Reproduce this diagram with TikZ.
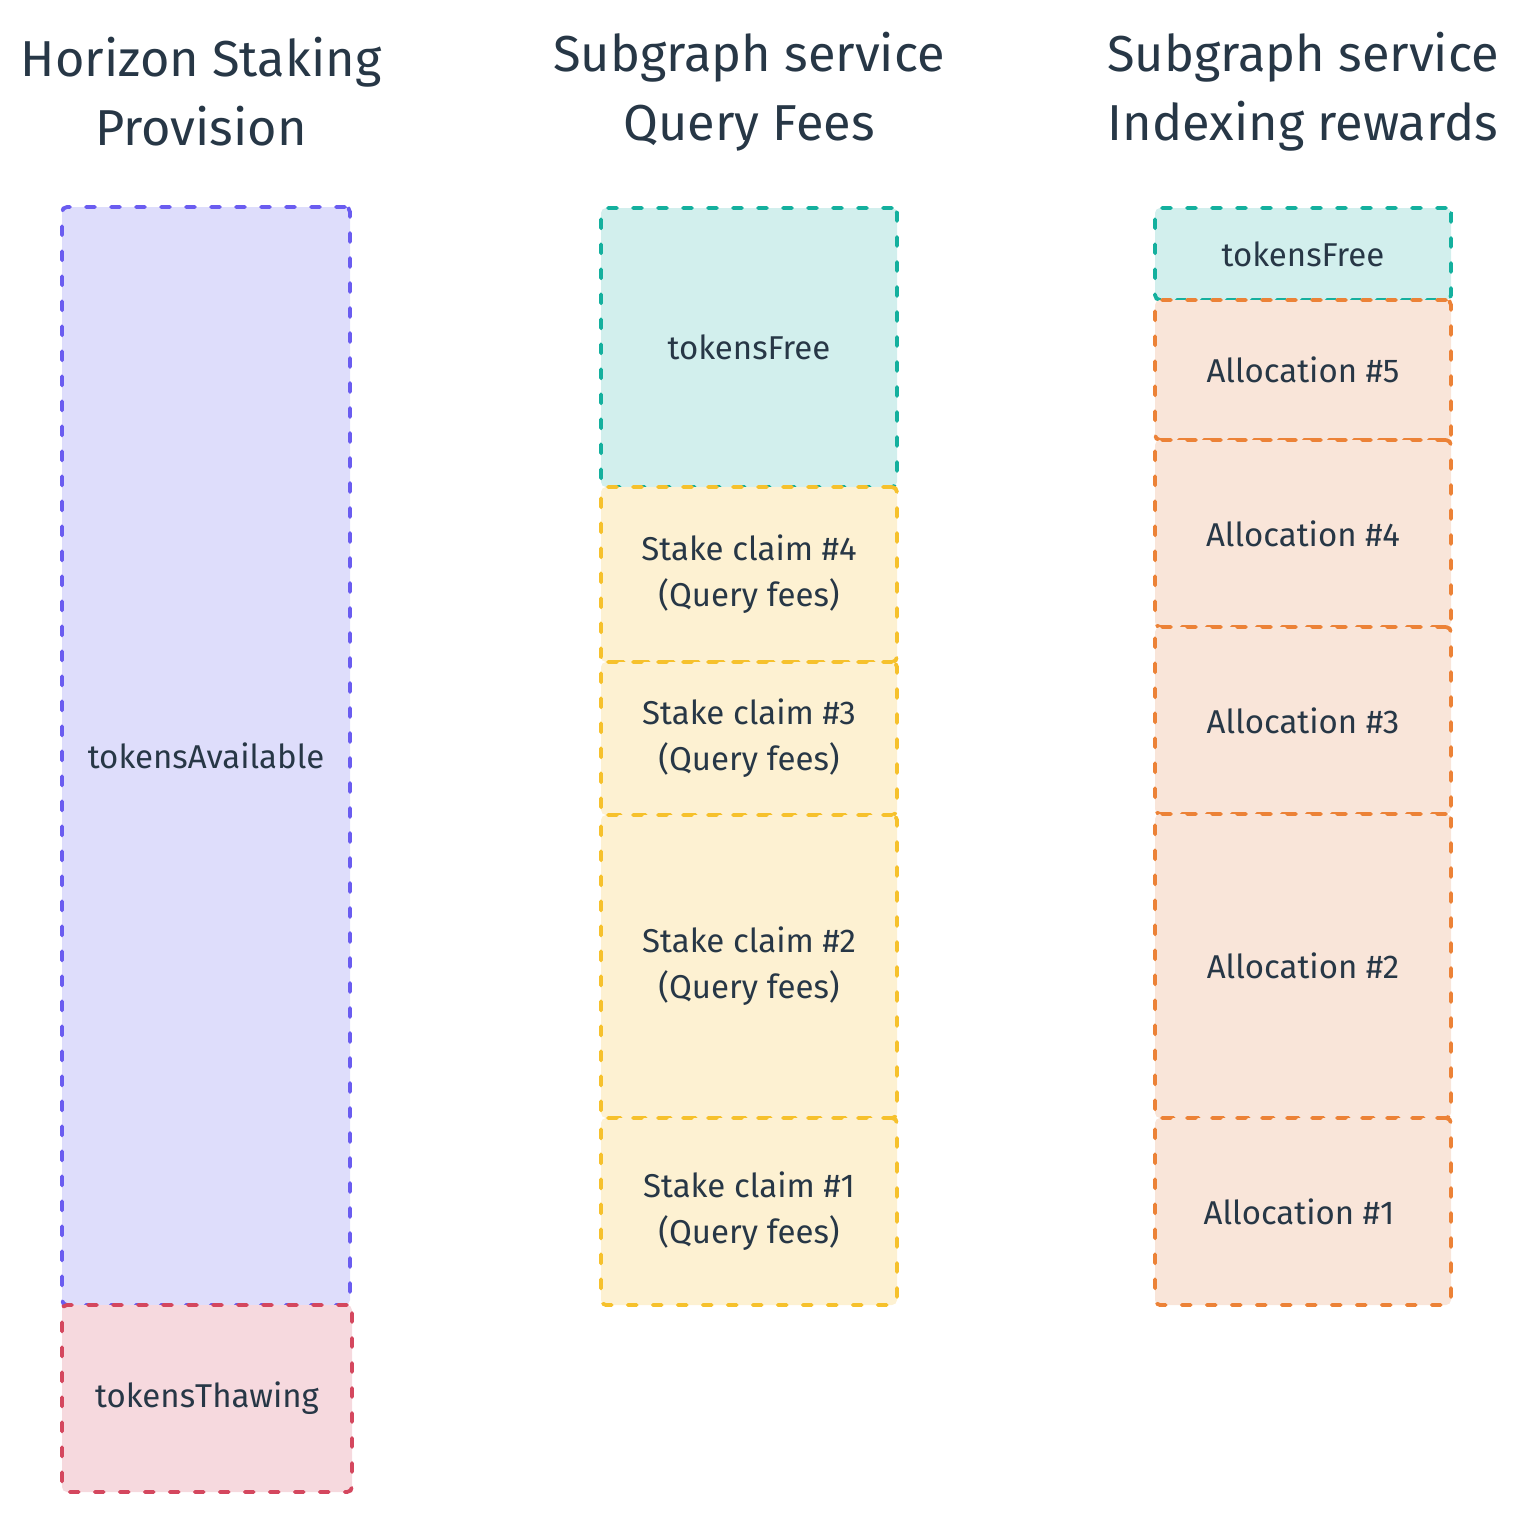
\documentclass[tikz,border=0pt]{standalone}
\usepackage{fontspec}
\setmainfont{Fira Sans}
\definecolor{txt}{HTML}{273746}
\definecolor{pStroke}{HTML}{6A5CF0}
\definecolor{pFill}{HTML}{DEDDFB}
\definecolor{rStroke}{HTML}{D4475E}
\definecolor{rFill}{HTML}{F6D9DE}
\definecolor{tStroke}{HTML}{14B09E}
\definecolor{tFill}{HTML}{D2EFED}
\definecolor{yStroke}{HTML}{F6C12C}
\definecolor{yFill}{HTML}{FDF1D2}
\definecolor{oStroke}{HTML}{EC8237}
\definecolor{oFill}{HTML}{F9E5D9}
\tikzset{
  blk/.style={draw, line width=3.8pt, dash pattern=on 9pt off 16pt, line cap=round,
    rounded corners=5pt, inner sep=0pt, align=center, text=txt,
    font=\fontsize{33}{46}\selectfont},
  ttl/.style={text=txt, align=center, inner sep=0pt, font=\fontsize{50.5}{69}\selectfont},
  purp/.style={blk, draw=pStroke, fill=pFill},
  redb/.style={blk, draw=rStroke, fill=rFill},
  teal/.style={blk, draw=tStroke, fill=tFill},
  yell/.style={blk, draw=yStroke, fill=yFill},
  oran/.style={blk, draw=oStroke, fill=oFill}
}
\begin{document}
\begin{tikzpicture}[x=1pt,y=-1pt]
\useasboundingbox (0,0) rectangle (1522,1512);
% titles
\node[ttl] (t1) at (201,92) {Horizon Staking\\Provision};
\node[ttl] (t2) at (749,92) {Subgraph service\\Query Fees};
\node[ttl] (t3) at (1303,92) {Subgraph service\\Indexing rewards};
% column 1
\node[purp, minimum width=288pt, minimum height=1098pt] (avail) at (206,756) {tokensAvailable};
\node[redb, minimum width=290pt, minimum height=187pt] (thaw) at (207,1398.5) {tokensThawing};
% column 2
\node[teal, minimum width=296pt, minimum height=279pt] (free2) at (749,347.5) {tokensFree};
\node[yell, minimum width=296pt, minimum height=175pt] (sc4) at (749,574.5) {Stake claim \#4\\(Query fees)};
\node[yell, minimum width=296pt, minimum height=153pt] (sc3) at (749,738.5) {Stake claim \#3\\(Query fees)};
\node[yell, minimum width=296pt, minimum height=303pt] (sc2) at (749,966.5) {Stake claim \#2\\(Query fees)};
\node[yell, minimum width=296pt, minimum height=187pt] (sc1) at (749,1211.5) {Stake claim \#1\\(Query fees)};
% column 3
\node[teal, minimum width=296pt, minimum height=92pt] (free3) at (1303,254) {tokensFree};
\node[oran, minimum width=296pt, minimum height=140pt] (a5) at (1303,370) {Allocation \#5};
\node[oran, minimum width=296pt, minimum height=187pt] (a4) at (1303,533.5) {Allocation \#4};
\node[oran, minimum width=296pt, minimum height=187pt] (a3) at (1303,720.5) {Allocation \#3};
\node[oran, minimum width=296pt, minimum height=304pt] (a2) at (1303,966) {Allocation \#2};
\node[oran, minimum width=296pt, minimum height=187pt] (a1) at (1303,1211.5) {Allocation \#1\hspace*{8pt}};
\end{tikzpicture}
\end{document}
